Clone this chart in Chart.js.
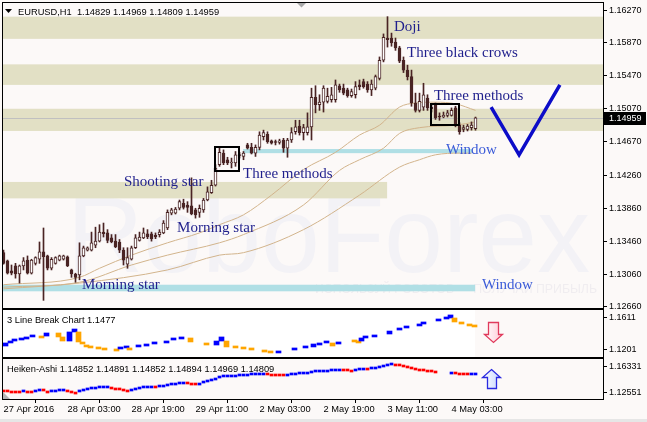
<!DOCTYPE html>
<html>
<head>
<meta charset="utf-8">
<title>EURUSD H1</title>
<script src="https://cdn.jsdelivr.net/npm/chart.js@4.4.1/dist/chart.umd.min.js"></script>
<style>
  html, body { margin: 0; padding: 0; background: #fcf9f8; }
  #wrap { position: relative; width: 647px; height: 422px; overflow: hidden; background: #fcf9f8; }
  #wrap canvas { position: absolute; left: 0; }
  #main { top: 0; }
  #lbc { top: 309px; }
  #ha { top: 358px; }
  #foot { position: absolute; left: 0; top: 419px; width: 647px; height: 3px; background: #e6e6e6; }
</style>
</head>
<body>
<div id="wrap">
  <canvas id="main" width="647" height="309"></canvas>
  <canvas id="lbc" width="647" height="49"></canvas>
  <canvas id="ha" width="647" height="61"></canvas>
  <div id="foot"></div>
</div>
<script>
var symbol = 'EURUSD,H1';

// hourly candles, 27 Apr 2016 11:00 .. 4 May 2016
var candleOpen = [
  1.1332,1.1322,1.1310,1.1316,1.1306,1.1316,1.1323,1.1307,1.1319,1.1324,
  1.1333,1.1328,1.1313,1.1319,1.1323,1.1324,1.1327,1.1311,1.1306,1.1305,
  1.1328,1.1335,1.1335,1.1341,1.1346,1.1357,1.1356,1.1350,1.1346,1.1345,
  1.1335,1.1318,1.1324,1.1338,1.1347,1.1350,1.1355,1.1355,1.1353,1.1354,
  1.1356,1.1362,1.1380,1.1380,1.1386,1.1392,1.1390,1.1389,1.1384,1.1381,
  1.1384,1.1396,1.1405,1.1414,1.1439,1.1453,1.1445,1.1441,1.1441,1.1450,
  1.1449,1.1463,1.1460,1.1453,1.1460,1.1473,1.1476,1.1468,1.1467,1.1466,
  1.1469,1.1459,1.1469,1.1479,1.1486,1.1478,1.1478,1.1485,1.1521,1.1512,
  1.1515,1.1516,1.1518,1.1518,1.1535,1.1532,1.1530,1.1523,1.1524,1.1536,
  1.1540,1.1537,1.1530,1.1532,1.1544,1.1566,1.1593,1.1593,1.1588,1.1581,
  1.1566,1.1554,1.1546,1.1514,1.1505,1.1509,1.1520,1.1509,1.1512,1.1498,
  1.1497,1.1499,1.1499,1.1508,1.1487,1.1482,1.1482,1.1484,1.14829
];
var candleHigh = [
  1.1335,1.1323,1.1317,1.1319,1.1317,1.1326,1.1328,1.1324,1.1327,1.1345,
  1.1362,1.1329,1.1326,1.1327,1.1329,1.1329,1.1328,1.1312,1.1307,1.1344,
  1.1340,1.1339,1.1357,1.1363,1.1366,1.1368,1.1360,1.1354,1.1354,1.1348,
  1.1338,1.1338,1.1340,1.1354,1.1357,1.1362,1.1360,1.1357,1.1356,1.1360,
  1.1371,1.1384,1.1386,1.1387,1.1396,1.1397,1.1394,1.1423,1.1386,1.1390,
  1.1398,1.1412,1.1420,1.1439,1.1459,1.1457,1.1448,1.1447,1.1455,1.1454,
  1.1455,1.1465,1.1465,1.1463,1.1479,1.1481,1.1479,1.1469,1.1469,1.1470,
  1.1471,1.1471,1.1484,1.1493,1.1493,1.1488,1.1502,1.1532,1.1535,1.1524,
  1.1535,1.1532,1.1533,1.1542,1.1537,1.1537,1.1532,1.1531,1.1540,1.1542,
  1.1543,1.1540,1.1542,1.1548,1.1570,1.1598,1.1619,1.1599,1.1593,1.1583,
  1.1570,1.1560,1.1554,1.1526,1.1526,1.1538,1.1524,1.1513,1.1514,1.1502,
  1.1503,1.1505,1.1508,1.1510,1.1490,1.1487,1.1488,1.1491,1.14969
];
var candleLow = [
  1.1318,1.1306,1.1305,1.1301,1.1295,1.1311,1.1306,1.1306,1.1317,1.1319,
  1.1274,1.1311,1.1311,1.1318,1.1322,1.1323,1.1315,1.1302,1.1296,1.1299,
  1.1327,1.1334,1.1334,1.1338,1.1345,1.1351,1.1344,1.1344,1.1338,1.1332,
  1.1317,1.1313,1.1323,1.1337,1.1346,1.1349,1.1349,1.1346,1.1349,1.1351,
  1.1355,1.1360,1.1378,1.1379,1.1384,1.1385,1.1381,1.1378,1.1374,1.1375,
  1.1381,1.1395,1.1404,1.1413,1.1437,1.1439,1.1439,1.1435,1.1437,1.1447,
  1.1445,1.1458,1.1452,1.1449,1.1457,1.1469,1.1465,1.1464,1.1463,1.1464,
  1.1454,1.1448,1.1466,1.1476,1.1475,1.1469,1.1475,1.1469,1.1502,1.1505,
  1.1503,1.1514,1.1515,1.1515,1.1527,1.1524,1.1521,1.1521,1.1520,1.1530,
  1.1532,1.1527,1.1523,1.1530,1.1542,1.1564,1.1582,1.1583,1.1578,1.1563,
  1.1551,1.1542,1.1510,1.1503,1.1503,1.1505,1.1505,1.1503,1.1494,1.1493,
  1.1496,1.1497,1.1498,1.1485,1.1476,1.1479,1.1480,1.1481,1.14809
];
var candleClose = [
  1.1319,1.1307,1.1307,1.1306,1.1316,1.1322,1.1307,1.1323,1.1326,1.1333,
  1.1327,1.1313,1.1324,1.1326,1.1328,1.1328,1.1316,1.1306,1.1302,1.1328,
  1.1338,1.1338,1.1344,1.1346,1.1357,1.1355,1.1347,1.1345,1.1339,1.1335,
  1.1323,1.1326,1.1338,1.1350,1.1351,1.1356,1.1351,1.1349,1.1351,1.1357,
  1.1368,1.1381,1.1384,1.1385,1.1394,1.1387,1.1387,1.1379,1.1378,1.1386,
  1.1396,1.1406,1.1414,1.1435,1.1454,1.1441,1.1441,1.1442,1.1451,1.1451,
  1.1453,1.1459,1.1453,1.1460,1.1475,1.1478,1.1467,1.1465,1.1466,1.1468,
  1.1459,1.1469,1.1478,1.1485,1.1478,1.1484,1.1485,1.1521,1.1512,1.1515,
  1.1532,1.1522,1.1524,1.1536,1.1530,1.1526,1.1523,1.1528,1.1534,1.1534,
  1.1534,1.1530,1.1537,1.1546,1.1566,1.1594,1.1591,1.1587,1.1581,1.1565,
  1.1554,1.1546,1.1514,1.1505,1.1516,1.1524,1.1508,1.1507,1.1496,1.1497,
  1.1499,1.1502,1.1505,1.1487,1.1479,1.1484,1.1486,1.1487,1.14959
];

var priceTicks = [1.16270,1.15870,1.15470,1.15070,1.14670,1.14260,1.13860,1.13460,1.13060,1.12660];
var timeTickBars = [0,16,32,48,64,80,96,112];
var timeLabels = ['27 Apr 2016','28 Apr 03:00','28 Apr 19:00','29 Apr 11:00','2 May 03:00','2 May 19:00','3 May 11:00','4 May 03:00'];

// moving averages (read at a few bars)
var maFastBar = [0,19,24,32,41,49,54,60,67,75,83,89,94,99,103,108,113,118];
var maFast    = [1.1293,1.1302,1.1313,1.1329,1.1344,1.1356,1.1366,1.1378,1.1402,1.1433,1.1454,1.1475,1.1487,1.1509,1.1514,1.1515,1.1513,1.1505];
var maMidBar  = [0,19,32,41,54,60,75,84,89,95,99,104,113,118];
var maMid     = [1.1290,1.1296,1.1317,1.1329,1.1344,1.1354,1.1390,1.1432,1.1445,1.1459,1.1477,1.1484,1.1487,1.1491];
var maSlowBar = [0,19,41,54,60,75,89,99,104,108,114,117];
var maSlow    = [1.1288,1.1295,1.1311,1.1329,1.1332,1.1360,1.1402,1.1436,1.1445,1.1451,1.1453,1.1453];

// support / resistance zones
var zoneLo  = [1.1592,1.1536,1.1480,1.1398];
var zoneHi  = [1.1619,1.1561,1.1507,1.1418];
var zoneEnd = [null,null,null,95.9];

// price gaps ("Window")
var gapFrom = [59.9,-0.2];
var gapTo   = [117.1,117.9];
var gapLo   = [1.1453,1.1285];
var gapHi   = [1.1458,1.1293];

// pattern captions
var noteText  = ['Doji','Three black crows','Three methods','Window','Shooting star','Three methods','Morning star','Morning star','Window'];
var noteBar   = [97.6,100.9,107.6,110.6,30.1,59.9,43.4,19.6,119.6];
var notePrice = [1.1602,1.1570,1.1518,1.1452,1.1413,1.1423,1.1357,1.1288,1.1288];

var boxFrom = [52.9,106.9];
var boxTo   = [58.9,113.9];
var boxLo   = [1.1431,1.1487];
var boxHi   = [1.1461,1.1513];

// expected move
var vBar   = [121.9,128.9,139.1];
var vPrice = [1.1509,1.1451,1.1536];

// 3 Line Break
var lbcValue = 1.1477;
var lbcTicks = [1.1611,1.1201];
var brickBar = [0.5,1.75,2.75,4.5,5.75,7.25,9.5,10.75,13.75,14.75,
  16.5,17.75,18.75,19.75,20.75,21.75,23.75,25.25,28.25,29.25,
  30.75,31.5,33.75,35.75,37.75,40.75,42.5,44.5,46.75,50.75,
  53.25,54.5,55.75,58,60,62,65.25,66.75,68.75,72.75,
  75.5,77.5,79,80.75,82.25,83.75,87.75,88.75,89.5,90.5,
  92.75,96.5,99,100.75,104,105,108.75,110.75,111.75,112.75,
  114.5,116.5,117.75];
var brickLo = [1.1252,1.1291,1.1316,1.1329,1.1342,1.1368,1.1355,1.1380,1.1368,1.1316,
  1.1316,1.1432,1.1304,1.1278,1.1240,1.1227,1.1214,1.1201,1.1188,1.1214,
  1.1227,1.1201,1.1240,1.1252,1.1278,1.1291,1.1329,1.1342,1.1304,1.1265,
  1.1265,1.1316,1.1240,1.1227,1.1214,1.1201,1.1175,1.1163,1.1163,1.1201,
  1.1227,1.1240,1.1265,1.1291,1.1252,1.1278,1.1304,1.1291,1.1316,1.1355,
  1.1368,1.1406,1.1457,1.1483,1.1509,1.1534,1.1573,1.1598,1.1611,1.1560,
  1.1534,1.1509,1.1496];
var brickHi = [1.1291,1.1316,1.1342,1.1355,1.1368,1.1380,1.1380,1.1419,1.1419,1.1368,
  1.1432,1.1470,1.1432,1.1291,1.1265,1.1240,1.1227,1.1214,1.1214,1.1227,
  1.1240,1.1227,1.1265,1.1278,1.1304,1.1316,1.1355,1.1368,1.1355,1.1291,
  1.1316,1.1368,1.1316,1.1240,1.1227,1.1227,1.1201,1.1175,1.1188,1.1227,
  1.1240,1.1278,1.1291,1.1316,1.1291,1.1304,1.1329,1.1316,1.1355,1.1368,
  1.1393,1.1444,1.1483,1.1496,1.1534,1.1560,1.1598,1.1624,1.1650,1.1611,
  1.1560,1.1534,1.1509];
var brickDir = 'uuuuuu' + 'd' + 'u' + 'dd' + 'uu' + 'dddddd' + 'd' + 'uu' + 'd' + 'uuuuuu' + 'dd' + 'uu' +
  'dddddd' + 'uuuuuu' + 'd' + 'u' + 'dd' + 'uuuuuuuuuuu' + 'dddd';

// Heiken-Ashi
var haHeader = [1.14852,1.14891,1.14852,1.14894,1.14969,1.14809];
var haTicks = [1.16331,1.12551];
var haLevel = [
  1.1270,1.1270,1.1255,1.1255,1.1255,1.1270,1.1255,1.1255,1.1270,1.1284,
  1.1284,1.1255,1.1270,1.1270,1.1284,1.1284,1.1270,1.1255,1.1240,1.1270,
  1.1284,1.1299,1.1313,1.1313,1.1328,1.1328,1.1328,1.1313,1.1299,1.1299,
  1.1284,1.1270,1.1284,1.1299,1.1313,1.1328,1.1328,1.1328,1.1328,1.1342,
  1.1342,1.1357,1.1371,1.1371,1.1386,1.1386,1.1386,1.1371,1.1371,1.1371,
  1.1400,1.1415,1.1430,1.1444,1.1473,1.1488,1.1488,1.1488,1.1488,1.1502,
  1.1502,1.1502,1.1517,1.1517,1.1517,1.1517,1.1517,1.1502,1.1502,1.1502,
  1.1502,1.1502,1.1517,1.1517,1.1531,1.1531,1.1531,1.1546,1.1560,1.1560,
  1.1560,1.1560,1.1575,1.1575,1.1575,1.1575,1.1575,1.1560,1.1575,1.1589,
  1.1589,1.1589,1.1604,1.1604,1.1619,1.1633,1.1648,1.1662,1.1648,1.1648,
  1.1633,1.1619,1.1604,1.1589,1.1575,1.1575,1.1560,1.1560,1.1546,null,
  null,null,1.1531,1.1531,1.1517,1.1517,1.1517,1.1517,1.1517
];
var haDir = 'rrrrr' + 'b' + 'rr' + 'bb' + 'r' + 'r' + 'bbbb' + 'rrr' + 'bbbbbbbb' + 'rrrrr' + 'bbbbbb' + 'r' +
  'bbbbbbb' + 'rrr' + 'bbbbbbbbbbbbbbbbb' + 'rrrrr' + 'bbbbbbbbbbbbbb' + 'rrr' + 'bbb' + 'r' + 'bbbbbb' +
  'rrrrrrrrrrr' + 'bbb' + 'b' + 'rrrr' + 'bb';

var xMin = -0.125, xMax = 149.875;
var candleCol = '#4a2424';
var axisFont = '9px "Liberation Sans"';
var labelFont = '9.3px "Liberation Sans"';

Chart.defaults.font.family = 'Liberation Sans';
Chart.defaults.font.size = 9;
Chart.defaults.color = '#000';

var last = candleClose.length - 1;

function frame(ctx, a) {
  ctx.save();
  ctx.strokeStyle = '#000';
  ctx.lineWidth = 1;
  ctx.strokeRect(a.left - 0.5, a.top - 0.5, a.right - a.left + 1, a.bottom - a.top + 1);
  ctx.restore();
}

function fitText(ctx, txt, x, y, w) {
  var m = ctx.measureText(txt).width;
  ctx.save();
  ctx.translate(x, y);
  ctx.scale(w / m, 1);
  ctx.fillText(txt, 0, 0);
  ctx.restore();
}

function noPad(s) {
  s.paddingTop = 0; s.paddingBottom = 0; s.paddingLeft = 0; s.paddingRight = 0;
}

function barAxis() {
  return { type: 'linear', min: xMin, max: xMax, offset: false, display: false };
}

function rightAxis(min, max, ticks, digits) {
  return {
    position: 'right', min: min, max: max,
    afterFit: function (s) { s.width = 44; noPad(s); },
    afterBuildTicks: function (s) { s.ticks = ticks.map(function (v) { return { value: v }; }); },
    ticks: { callback: function (v) { return v.toFixed(digits); }, padding: 2, font: { size: 9 }, color: '#000' },
    grid: { drawOnChartArea: false, drawTicks: true, tickLength: 4, color: '#000' },
    border: { display: false }
  };
}

var mainDecor = {
  id: 'mainDecor',
  beforeDatasetsDraw: function (chart) {
    var ctx = chart.ctx, a = chart.chartArea, x = chart.scales.x, y = chart.scales.y;
    ctx.save();
    ctx.beginPath();
    ctx.rect(a.left, a.top, a.right - a.left, a.bottom - a.top);
    ctx.clip();

    ctx.fillStyle = '#f3f2f6';
    ctx.font = '108px "Liberation Sans"';
    fitText(ctx, 'RoboForex', 67, 272, 523);
    ctx.fillStyle = '#f0edf0';
    ctx.font = '13px "Liberation Sans"';
    fitText(ctx, 'ИСПОЛЬЗУЙ РОБОТОВ — ПОЛУЧАЙ ПРИБЫЛЬ', 315, 293, 282);

    ctx.fillStyle = '#e2e0c5';
    for (var k = 0; k < zoneLo.length; k++) {
      var xe = zoneEnd[k] == null ? a.right : x.getPixelForValue(zoneEnd[k]);
      var t = y.getPixelForValue(zoneHi[k]), b = y.getPixelForValue(zoneLo[k]);
      ctx.fillRect(a.left, t, xe - a.left, b - t);
    }
    ctx.fillStyle = '#b0dfe5';
    for (var g = 0; g < gapLo.length; g++) {
      var x0 = Math.max(a.left, x.getPixelForValue(gapFrom[g])), x1 = x.getPixelForValue(gapTo[g]);
      var t2 = y.getPixelForValue(gapHi[g]), b2 = y.getPixelForValue(gapLo[g]);
      ctx.fillRect(x0, t2, x1 - x0, b2 - t2);
    }
    var py = Math.round(y.getPixelForValue(candleClose[last])) + 0.5;
    ctx.strokeStyle = '#c0c0c0';
    ctx.lineWidth = 1;
    ctx.beginPath();
    ctx.moveTo(a.left, py);
    ctx.lineTo(a.right, py);
    ctx.stroke();
    ctx.restore();
  },
  afterDatasetsDraw: function (chart) {
    var ctx = chart.ctx, x = chart.scales.x, y = chart.scales.y;
    ctx.save();
    ctx.font = '15px "Liberation Serif"';
    ctx.textBaseline = 'alphabetic';
    for (var k = 0; k < noteText.length; k++) {
      ctx.fillStyle = noteText[k] === 'Window' ? '#3b5bd8' : '#1f1f8c';
      ctx.fillText(noteText[k], x.getPixelForValue(noteBar[k]), y.getPixelForValue(notePrice[k]));
    }
    ctx.strokeStyle = '#000';
    ctx.lineWidth = 2;
    for (var b = 0; b < boxLo.length; b++) {
      var l = Math.round(x.getPixelForValue(boxFrom[b])), r = Math.round(x.getPixelForValue(boxTo[b]));
      var t = Math.round(y.getPixelForValue(boxHi[b])), btm = Math.round(y.getPixelForValue(boxLo[b]));
      ctx.strokeRect(l, t, r - l, btm - t);
    }
    ctx.strokeStyle = '#0c0cc8';
    ctx.lineWidth = 3.5;
    ctx.lineJoin = 'miter';
    ctx.beginPath();
    for (var v = 0; v < vBar.length; v++) {
      var vx = x.getPixelForValue(vBar[v]), vy = y.getPixelForValue(vPrice[v]);
      if (v === 0) ctx.moveTo(vx, vy); else ctx.lineTo(vx, vy);
    }
    ctx.stroke();
    ctx.restore();
  },
  afterDraw: function (chart) {
    var ctx = chart.ctx, a = chart.chartArea, y = chart.scales.y;
    frame(ctx, a);
    ctx.save();
    // chart shift marker
    ctx.fillStyle = '#a8a8a8';
    ctx.beginPath(); ctx.moveTo(297, 3); ctx.lineTo(306, 3); ctx.lineTo(301.5, 7.5); ctx.closePath(); ctx.fill();
    // title
    ctx.fillStyle = '#000';
    ctx.beginPath(); ctx.moveTo(5, 9); ctx.lineTo(12, 9); ctx.lineTo(8.5, 13); ctx.closePath(); ctx.fill();
    ctx.font = labelFont;
    ctx.textBaseline = 'alphabetic';
    ctx.fillText(symbol + '  ' + [candleOpen[last], candleHigh[last], candleLow[last], candleClose[last]]
      .map(function (v) { return v.toFixed(5); }).join(' '), 18, 15);
    // current price label
    var py = Math.round(y.getPixelForValue(candleClose[last]));
    ctx.fillStyle = '#000';
    ctx.fillRect(604, py - 6, 42, 13);
    ctx.fillStyle = '#fff';
    ctx.font = axisFont;
    ctx.textBaseline = 'middle';
    ctx.fillText(candleClose[last].toFixed(5), 609, py + 0.5);
    ctx.restore();
  }
};

var bars = candleOpen.map(function (o, i) { return i; });

new Chart(document.getElementById('main'), {
  type: 'bar',
  data: {
    datasets: [
      { type: 'line', data: maFastBar.map(function (b, k) { return { x: b, y: maFast[k] }; }),
        borderColor: '#d2b48c', borderWidth: 1, pointRadius: 0, cubicInterpolationMode: 'monotone', order: 5 },
      { type: 'line', data: maMidBar.map(function (b, k) { return { x: b, y: maMid[k] }; }),
        borderColor: '#d2b48c', borderWidth: 1, pointRadius: 0, cubicInterpolationMode: 'monotone', order: 4 },
      { type: 'line', data: maSlowBar.map(function (b, k) { return { x: b, y: maSlow[k] }; }),
        borderColor: '#d2b48c', borderWidth: 1, pointRadius: 0, cubicInterpolationMode: 'monotone', order: 3 },
      { type: 'bar', data: bars.map(function (i) { return { x: i, y: [candleLow[i], candleHigh[i]] }; }),
        backgroundColor: candleCol, barThickness: 1, grouped: false, order: 2 },
      { type: 'bar', data: bars.map(function (i) { return { x: i, y: [candleOpen[i], candleClose[i]] }; }),
        backgroundColor: bars.map(function (i) { return candleClose[i] >= candleOpen[i] ? '#ffffff' : candleCol; }),
        borderColor: candleCol, borderWidth: 1, borderSkipped: false, barThickness: 3, minBarLength: 1,
        grouped: false, order: 1 }
    ]
  },
  options: {
    responsive: false, animation: false, devicePixelRatio: 1, events: [],
    layout: { autoPadding: false, padding: { left: 3, top: 3, right: 0, bottom: 1 } },
    plugins: { legend: { display: false }, tooltip: { enabled: false } },
    scales: {
      x: barAxis(),
      y: rightAxis(1.12647, 1.16356, priceTicks, 5)
    }
  },
  plugins: [mainDecor]
});

var lbcDecor = {
  id: 'lbcDecor',
  beforeDatasetsDraw: function (chart) {
    var ctx = chart.ctx, a = chart.chartArea, x = chart.scales.x;
    ctx.save();
    ctx.fillStyle = '#ffffff';
    ctx.fillRect(a.left, a.top, x.getPixelForValue(117.9) - a.left, a.bottom - a.top);
    ctx.restore();
  },
  afterDraw: function (chart) {
    var ctx = chart.ctx;
    frame(ctx, chart.chartArea);
    ctx.save();
    ctx.fillStyle = '#000';
    ctx.font = labelFont;
    ctx.fillText('3 Line Break Chart ' + lbcValue.toFixed(4), 7, 14);
    var gr = ctx.createLinearGradient(485, 0, 503, 0);
    gr.addColorStop(0, '#ffffff'); gr.addColorStop(1, '#ffc8d4');
    ctx.fillStyle = gr;
    ctx.strokeStyle = '#e03a5c';
    ctx.lineWidth = 1.3;
    ctx.beginPath();
    ctx.moveTo(488.5, 13.5); ctx.lineTo(498.5, 13.5); ctx.lineTo(498.5, 25.5); ctx.lineTo(502.5, 25.5);
    ctx.lineTo(493.5, 33.5); ctx.lineTo(484.5, 25.5); ctx.lineTo(488.5, 25.5); ctx.closePath();
    ctx.fill(); ctx.stroke();
    ctx.restore();
  }
};

new Chart(document.getElementById('lbc'), {
  type: 'bar',
  data: {
    datasets: [{
      data: brickBar.map(function (b, k) { return { x: b, y: [brickLo[k], brickHi[k]] }; }),
      backgroundColor: brickBar.map(function (b, k) { return brickDir[k] === 'u' ? '#0000ff' : '#ffa500'; }),
      barThickness: 5, minBarLength: 2, grouped: false
    }]
  },
  options: {
    responsive: false, animation: false, devicePixelRatio: 1, events: [],
    layout: { autoPadding: false, padding: { left: 3, top: 1, right: 0, bottom: 1 } },
    plugins: { legend: { display: false }, tooltip: { enabled: false } },
    scales: {
      x: barAxis(),
      y: rightAxis(1.11113, 1.17135, lbcTicks, 4)
    }
  },
  plugins: [lbcDecor]
});

var haDecor = {
  id: 'haDecor',
  afterDraw: function (chart) {
    var ctx = chart.ctx;
    frame(ctx, chart.chartArea);
    ctx.save();
    ctx.fillStyle = '#000';
    ctx.font = labelFont;
    ctx.fillText('Heiken-Ashi ' + haHeader.map(function (v) { return v.toFixed(5); }).join(' '), 7, 14);
    ctx.fillStyle = '#b4b4b4';
    ctx.beginPath(); ctx.moveTo(3, 34); ctx.lineTo(3, 41); ctx.lineTo(10, 41); ctx.closePath(); ctx.fill();
    var gr = ctx.createLinearGradient(483, 0, 500, 0);
    gr.addColorStop(0, '#ffffff'); gr.addColorStop(1, '#c8d8ff');
    ctx.fillStyle = gr;
    ctx.strokeStyle = '#2a2ae0';
    ctx.lineWidth = 1.3;
    ctx.beginPath();
    ctx.moveTo(491.5, 11.5); ctx.lineTo(500.5, 19.5); ctx.lineTo(496.5, 19.5); ctx.lineTo(496.5, 30.5);
    ctx.lineTo(487.5, 30.5); ctx.lineTo(487.5, 19.5); ctx.lineTo(482.5, 19.5); ctx.closePath();
    ctx.fill(); ctx.stroke();
    ctx.restore();
  }
};

var haPts = [], haCols = [];
haLevel.forEach(function (v, i) {
  if (v == null) return;
  haPts.push({ x: i, y: [v, v] });
  haCols.push(haDir[i] === 'b' ? '#0000ff' : '#ff0000');
});

new Chart(document.getElementById('ha'), {
  type: 'bar',
  data: {
    datasets: [{
      data: haPts, backgroundColor: haCols, barThickness: 3, minBarLength: 2, grouped: false
    }]
  },
  options: {
    responsive: false, animation: false, devicePixelRatio: 1, events: [],
    layout: { autoPadding: false, padding: { left: 3, top: 1, right: 0, bottom: 0 } },
    plugins: { legend: { display: false }, tooltip: { enabled: false } },
    scales: {
      x: {
        type: 'linear', min: xMin, max: xMax, position: 'bottom', offset: false,
        afterFit: function (s) { s.height = 20; noPad(s); },
        afterBuildTicks: function (s) { s.ticks = timeTickBars.map(function (v) { return { value: v }; }); },
        ticks: {
          callback: function (v, i) { return timeLabels[i]; }, align: 'start', autoSkip: false,
          maxRotation: 0, minRotation: 0, padding: 1, font: { size: 9.3 }, color: '#000'
        },
        grid: { drawOnChartArea: false, drawTicks: true, tickLength: 4, color: '#000' },
        border: { display: false }
      },
      y: rightAxis(1.11678, 1.17494, haTicks, 5)
    }
  },
  plugins: [haDecor]
});
</script>
</body>
</html>
